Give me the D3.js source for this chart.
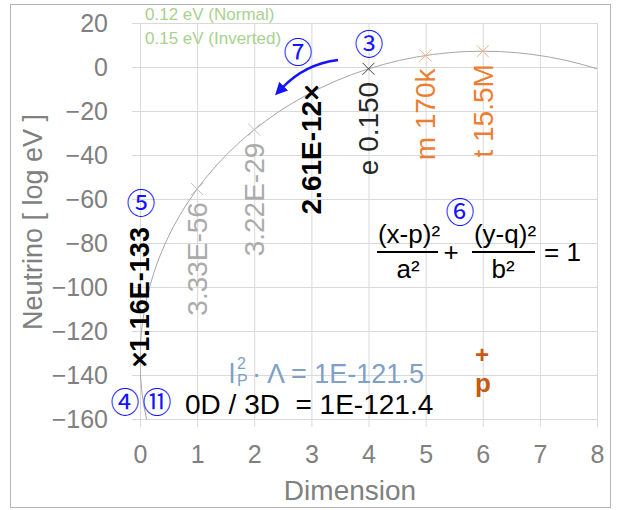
<!DOCTYPE html>
<html>
<head>
<meta charset="utf-8">
<script src="https://cdn.jsdelivr.net/npm/d3@7"></script>
<style>
  body { margin: 0; background: #fff; }
  svg { font-family: "Liberation Sans", Arial, sans-serif; }
  .grid line { stroke: #d9d9d9; stroke-width: 1; }
  .grid path { display: none; }
  .ticklab text { fill: #808080; font-size: 25px; }
  .ticklab path, .ticklab line { display: none; }
  .circ { font-family: "Noto Sans CJK JP", sans-serif; fill: #1414ff; font-size: 29px; }
</style>
</head>
<body>
<svg id="chart" width="617" height="510"></svg>
<script>
// values
var dims = [0, 1, 2, 3, 4, 5, 6];
var logEv = [-132.94, -55.48, -28.49, -11.58, -0.82, 5.23, 7.19];
var pointLabels = ["\u00d71.16E-133", "3.33E-56", "3.22E-29", "2.61E-12\u00d7", "e 0.150", "m 170k", "t 15.5M"];
var xTicks = [0, 1, 2, 3, 4, 5, 6, 7, 8];
var yTicks = [-160, -140, -120, -100, -80, -60, -40, -20, 0, 20];
// ellipse (x-p)^2/a^2 + (y-q)^2/b^2 = 1
var ellP = 6, ellQ = -132.94, ellA = 6, ellB = 140.13;
var neutrinoNotes = ["0.12 eV (Normal)", "0.15 eV (Inverted)"];

// styles per point
var markColor = ["#000", "#c0c0c0", "#c0c0c0", "#000", "#404040", "#f4b183", "#f4b183"];
var labColor = ["#000", "#ababab", "#ababab", "#000", "#262626", "#ed7d31", "#ed7d31"];
var labBold = [true, false, false, true, false, false, false];

var svg = d3.select("#chart");
var L = 140, R = 597, T = 23, B = 419;

var x = d3.scaleLinear().domain([0, 8]).range([L, R]);
var y = d3.scaleLinear().domain([-160, 20]).range([B, T]);

// outer frame
svg.append("rect").attr("x", 10.5).attr("y", 4.5).attr("width", 600).attr("height", 503)
  .attr("fill", "none").attr("stroke", "#b4b4b4");

// gridlines (ticks stick out 8px)
svg.append("g").classed("grid", true).attr("transform", "translate(" + (L - 8) + ",0)")
  .call(d3.axisLeft(y).tickValues(yTicks).tickSize(-(R - L + 8)).tickFormat(""));
svg.append("g").classed("grid", true).attr("transform", "translate(0," + (B + 8) + ")")
  .call(d3.axisBottom(x).tickValues(xTicks).tickSize(-(B - T + 8)).tickFormat(""));

// tick labels
svg.append("g").classed("ticklab", true).attr("transform", "translate(" + L + ",0)")
  .call(d3.axisLeft(y).tickValues(yTicks).tickSize(0).tickPadding(32));
svg.append("g").classed("ticklab", true).attr("transform", "translate(0," + B + ")")
  .call(d3.axisBottom(x).tickValues(xTicks).tickSize(0).tickPadding(26));

// axis titles
svg.append("text").attr("transform", "translate(33,222) rotate(-90)")
  .attr("text-anchor", "middle").attr("dy", "0.35em")
  .style("font-size", "27px").style("fill", "#808080").text("Neutrino [ log eV ]");
svg.append("text").attr("x", 350).attr("y", 500).attr("text-anchor", "middle")
  .style("font-size", "28px").style("fill", "#808080").text("Dimension");

// ellipse curve clipped to plot
svg.append("clipPath").attr("id", "plotclip").append("rect")
  .attr("x", L).attr("y", T).attr("width", R - L).attr("height", B - T);
svg.append("ellipse").attr("clip-path", "url(#plotclip)")
  .attr("cx", x(ellP)).attr("cy", y(ellQ))
  .attr("rx", x(ellP + ellA) - x(ellP)).attr("ry", y(ellQ) - y(ellQ + ellB))
  .attr("fill", "none").attr("stroke", "#a6a6a6").attr("stroke-width", 1);

// markers
var sym = d3.symbol(d3.symbolTimes, 95);
svg.append("g").selectAll("path").data(dims).join("path")
  .attr("transform", function(d, i) { return "translate(" + x(d) + "," + y(logEv[i]) + ")"; })
  .attr("d", sym).attr("fill", "none")
  .attr("stroke", function(d, i) { return markColor[i]; }).attr("stroke-width", 1);

// point labels, rotated
svg.append("g").selectAll("text").data(dims).join("text")
  .attr("transform", function(d, i) {
    var py = y(logEv[i]);
    if (i === 0) py += 8;
    else if (i === 3) py -= 8;
    else py += 13;
    return "translate(" + x(d) + "," + py + ") rotate(-90)";
  })
  .attr("text-anchor", function(d, i) { return i === 0 ? "start" : "end"; })
  .attr("dy", "0.35em")
  .style("font-size", function(d, i) { return i === 0 ? "27px" : "28px"; })
  .style("font-weight", function(d, i) { return labBold[i] ? "bold" : "normal"; })
  .style("fill", function(d, i) { return labColor[i]; })
  .text(function(d, i) { return pointLabels[i]; });

// green notes at top
svg.append("g").selectAll("text").data(neutrinoNotes).join("text")
  .attr("x", 145).attr("y", function(d, i) { return 20 + i * 24; })
  .style("font-size", "17px").style("fill", "#a9d18e").text(function(d) { return d; });

// circled numbers
var circs = [["\u2462", 369, 45], ["\u2466", 298, 53], ["\u2464", 141, 204], ["\u2465", 460, 213], ["\u2463", 125, 403], ["\u246a", 157, 403]];
svg.append("g").selectAll("text").data(circs).join("text").classed("circ", true)
  .attr("x", function(d) { return d[1]; }).attr("y", function(d) { return d[2]; })
  .attr("text-anchor", "middle").attr("dy", "0.35em").text(function(d) { return d[0]; });

// blue arrow
svg.append("defs").append("marker").attr("id", "ah").attr("viewBox", "0 0 10 10")
  .attr("refX", 2).attr("refY", 5).attr("markerWidth", 5).attr("markerHeight", 5)
  .attr("orient", "auto").append("path").attr("d", "M0,0L10,5L0,10z").attr("fill", "#1414ff");
svg.append("path").attr("d", "M338,60 Q305,64 282,88")
  .attr("fill", "none").attr("stroke", "#1414ff").attr("stroke-width", 2.5)
  .attr("marker-end", "url(#ah)");

// ellipse formula
var f = svg.append("g").style("font-size", "26px").style("fill", "#000");
f.append("text").attr("x", 409).attr("y", 243).attr("text-anchor", "middle").text("(x-p)\u00b2");
f.append("text").attr("x", 408).attr("y", 278).attr("text-anchor", "middle").text("a\u00b2");
f.append("text").attr("x", 505).attr("y", 243).attr("text-anchor", "middle").text("(y-q)\u00b2");
f.append("text").attr("x", 503).attr("y", 278).attr("text-anchor", "middle").text("b\u00b2");
f.append("text").attr("x", 451).attr("y", 261).attr("text-anchor", "middle").text("+");
f.append("text").attr("x", 544).attr("y", 261).text("= 1");
f.append("line").attr("x1", 377).attr("x2", 438).attr("y1", 252).attr("y2", 252).attr("stroke", "#000").attr("stroke-width", 2);
f.append("line").attr("x1", 472).attr("x2", 535).attr("y1", 252).attr("y2", 252).attr("stroke", "#000").attr("stroke-width", 2);

// Planck relation
var pl = svg.append("g").style("fill", "#7ea0c9");
pl.append("text").attr("x", 229).attr("y", 383).style("font-size", "27px").text("l");
pl.append("text").attr("x", 237).attr("y", 369).style("font-size", "16px").text("2");
pl.append("text").attr("x", 237).attr("y", 386).style("font-size", "16px").text("P");
pl.append("text").attr("x", 252).attr("y", 383).style("font-size", "27px").text("\u00b7 \u039b = 1E-121.5");

svg.append("text").attr("x", 185).attr("y", 414).style("font-size", "28px").style("fill", "#000")
  .style("white-space", "pre").text("0D / 3D  = 1E-121.4");

// proton
svg.append("text").attr("x", 482).attr("y", 363).attr("text-anchor", "middle")
  .style("font-size", "24px").style("font-weight", "bold").style("fill", "#c55a11").text("+");
svg.append("text").attr("x", 483).attr("y", 392).attr("text-anchor", "middle")
  .style("font-size", "26px").style("font-weight", "bold").style("fill", "#c55a11").text("p");
</script>
</body>
</html>
